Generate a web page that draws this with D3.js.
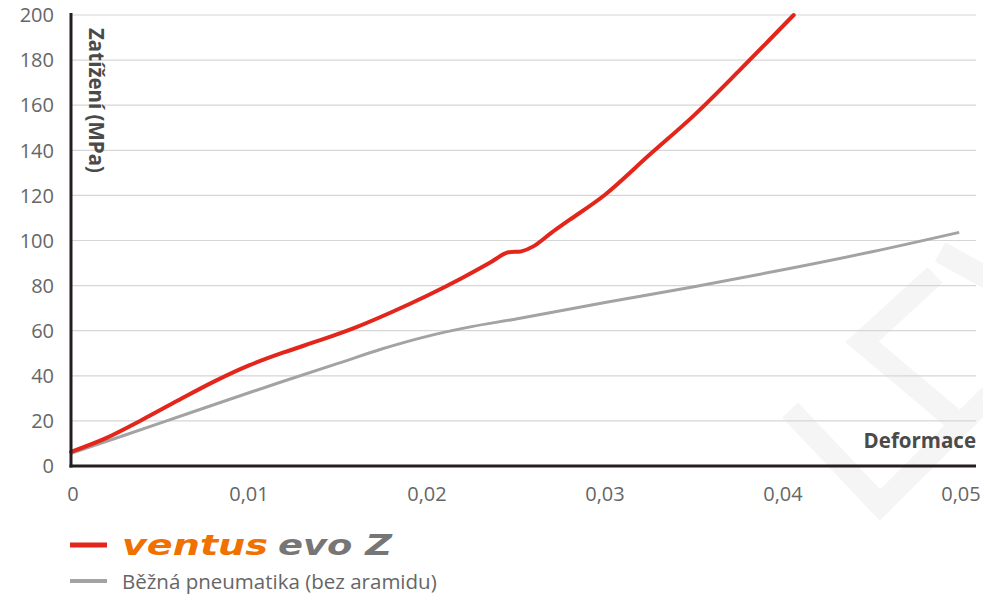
<!DOCTYPE html>
<html>
<head>
<meta charset="utf-8">
<script src="https://cdn.jsdelivr.net/npm/d3@7"></script>
<style>
  body { margin: 0; background: #fff; }
  svg { display: block; font-family: "Open Sans", sans-serif; }
  .grid line { stroke: #d6d6d6; stroke-width: 1.2; }
  .tick-label { fill: #666; font-size: 20px; }
</style>
</head>
<body>
<svg id="chart" width="983" height="597"></svg>
<script>
// deformation (x) vs load in MPa (y)
var ventusX = [0, 0.002, 0.004, 0.006, 0.008, 0.010, 0.012, 0.014, 0.016, 0.018, 0.020, 0.022, 0.0235, 0.0245, 0.0253, 0.026, 0.027, 0.028, 0.030, 0.0325, 0.035, 0.0375, 0.0406];
var ventusY = [6.3, 12.5, 20.5, 29, 37.3, 44.6, 50.5, 55.8, 61.5, 68.2, 75.5, 83.5, 90, 94.6, 95.2, 97.5, 103.5, 109.1, 120.3, 138, 155.5, 175, 200];

var commonX = [0, 0.005, 0.010, 0.015, 0.0175, 0.020, 0.0225, 0.025, 0.030, 0.035, 0.040, 0.045, 0.0499];
var commonY = [5.6, 19, 32.5, 45.5, 52, 57.5, 61.8, 65.2, 72.5, 79.5, 87, 95, 103.6];

var xTicks = [0, 0.01, 0.02, 0.03, 0.04, 0.05];
var yTicks = [0, 20, 40, 60, 80, 100, 120, 140, 160, 180, 200];

var seriesNames = ["ventus", "Běžná pneumatika (bez aramidu)"];

function zip(xs, ys) {
    return xs.map((x, i) => ({x: x, y: ys[i]}));
}

document.addEventListener("DOMContentLoaded", () => {
    let svg = d3.select("#chart");

    let left = 71, bottom = 466, top = 15, right = 976;

    let x = d3.scaleLinear().domain([0, 0.05]).range([left, 961]);
    let y = d3.scaleLinear().domain([0, 200]).range([bottom, top]);

    // faint watermark strokes in the lower right corner
    let wm = svg.append("g")
        .attr("fill", "none")
        .attr("stroke", "#f5f5f5")
        .attr("stroke-width", 22)
        .attr("stroke-linejoin", "miter");
    wm.append("polyline").attr("points", "790,410 880,505 990,395");
    wm.append("polyline").attr("points", "935,275 862,342 955,420");
    wm.append("polyline").attr("points", "940,252 995,282");

    // gridlines
    svg.append("g")
        .attr("class", "grid")
        .selectAll("line")
        .data(yTicks.filter(d => d > 0))
        .enter().append("line")
        .attr("x1", left)
        .attr("x2", right)
        .attr("y1", d => y(d))
        .attr("y2", d => y(d));

    // y tick labels
    svg.append("g")
        .selectAll("text")
        .data(yTicks)
        .enter().append("text")
        .attr("class", "tick-label")
        .attr("x", 54)
        .attr("y", d => y(d))
        .attr("dy", "0.36em")
        .attr("text-anchor", "end")
        .text(d => d);

    // x tick labels
    let fmt = d => d === 0 ? "0" : d3.format(".2f")(d).replace(".", ",");
    svg.append("g")
        .selectAll("text")
        .data(xTicks)
        .enter().append("text")
        .attr("class", "tick-label")
        .attr("x", d => d === 0 ? x(d) + 2 : x(d))
        .attr("y", 501)
        .attr("text-anchor", "middle")
        .text(fmt);

    let line = d3.line()
        .x(d => x(d.x))
        .y(d => y(d.y))
        .curve(d3.curveCatmullRom.alpha(0.5));

    svg.append("path")
        .datum(zip(commonX, commonY))
        .attr("fill", "none")
        .attr("stroke", "#a3a3a3")
        .attr("stroke-width", 3)
        .attr("d", line);

    svg.append("path")
        .datum(zip(ventusX, ventusY))
        .attr("fill", "none")
        .attr("stroke", "#e3261b")
        .attr("stroke-width", 4)
        .attr("stroke-linecap", "round")
        .attr("d", line);

    // axes
    svg.append("line")
        .attr("x1", left).attr("x2", left)
        .attr("y1", 13).attr("y2", bottom + 1.5)
        .attr("stroke", "#231f20").attr("stroke-width", 3);
    svg.append("line")
        .attr("x1", left - 1.5).attr("x2", right)
        .attr("y1", bottom).attr("y2", bottom)
        .attr("stroke", "#231f20").attr("stroke-width", 3);

    // axis titles
    svg.append("text")
        .attr("transform", "translate(89,28) rotate(90)")
        .attr("fill", "#4a4a4a")
        .attr("font-size", 20.5)
        .attr("font-weight", "bold")
        .text("Zatížení (MPa)");

    svg.append("text")
        .attr("x", right)
        .attr("y", 448)
        .attr("text-anchor", "end")
        .attr("fill", "#4a4a4a")
        .attr("font-size", 20.5)
        .attr("font-weight", "bold")
        .text("Deformace");

    // legend
    let legend = svg.append("g");
    legend.append("line")
        .attr("x1", 70).attr("x2", 107)
        .attr("y1", 545).attr("y2", 545)
        .attr("stroke", "#e3261b").attr("stroke-width", 5);
    let logo = legend.append("text")
        .attr("x", 122)
        .attr("y", 555)
        .attr("font-family", "'DejaVu Sans', sans-serif")
        .attr("font-size", 28)
        .attr("font-weight", "bold")
        .attr("font-style", "italic");
    logo.append("tspan")
        .attr("fill", "#f07000")
        .attr("textLength", 146)
        .attr("lengthAdjust", "spacingAndGlyphs")
        .text(seriesNames[0]);
    logo.append("tspan")
        .attr("x", 278)
        .attr("fill", "#767676")
        .attr("textLength", 114)
        .attr("lengthAdjust", "spacingAndGlyphs")
        .text("evo Z");

    legend.append("line")
        .attr("x1", 70).attr("x2", 107)
        .attr("y1", 581).attr("y2", 581)
        .attr("stroke", "#a3a3a3").attr("stroke-width", 4);
    legend.append("text")
        .attr("x", 122)
        .attr("y", 589)
        .attr("fill", "#666")
        .attr("font-size", 20.5)
        .text(seriesNames[1]);
});
</script>
</body>
</html>
